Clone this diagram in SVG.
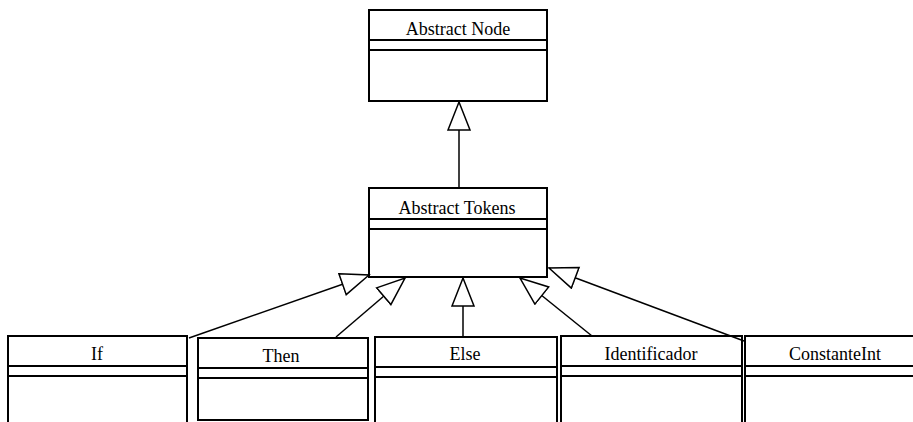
<svg xmlns="http://www.w3.org/2000/svg" width="913" height="422" viewBox="0 0 913 422">
<style>
.box{fill:#fff;stroke:#000;stroke-width:2}
.sep{stroke:#000;stroke-width:2}
.lbl{font-family:"Liberation Serif",serif;font-size:18px;fill:#000;text-anchor:middle}
.conn{stroke:#000;stroke-width:1.5;fill:none}
</style>
<defs>
<marker id="gen" markerUnits="userSpaceOnUse" markerWidth="32" markerHeight="26" refX="29" refY="12" orient="auto" viewBox="0 0 32 26">
<path d="M1,1 L29,12 L1,23 Z" fill="#fff" stroke="#000" stroke-width="1.5"/>
</marker>
</defs>
<rect width="913" height="422" fill="#fff"/>
<g id="abstract-node">
<rect class="box" x="369" y="10" width="178" height="91"/>
<line class="sep" x1="369" y1="40" x2="547" y2="40"/>
<line class="sep" x1="369" y1="50" x2="547" y2="50"/>
<text class="lbl" x="458" y="35">Abstract Node</text>
</g>
<g id="abstract-tokens">
<rect class="box" x="369" y="188" width="178" height="89"/>
<line class="sep" x1="369" y1="219" x2="547" y2="219"/>
<line class="sep" x1="369" y1="229" x2="547" y2="229"/>
<text class="lbl" x="457" y="214">Abstract Tokens</text>
</g>
<g id="if">
<rect class="box" x="8" y="336" width="179" height="100"/>
<line class="sep" x1="8" y1="366" x2="187" y2="366"/>
<line class="sep" x1="8" y1="376" x2="187" y2="376"/>
<text class="lbl" x="97" y="360">If</text>
</g>
<g id="then">
<rect class="box" x="198" y="338" width="170" height="82"/>
<line class="sep" x1="198" y1="368" x2="368" y2="368"/>
<line class="sep" x1="198" y1="378" x2="368" y2="378"/>
<text class="lbl" x="281" y="362">Then</text>
</g>
<g id="else">
<rect class="box" x="375" y="337" width="182" height="100"/>
<line class="sep" x1="375" y1="367" x2="557" y2="367"/>
<line class="sep" x1="375" y1="377" x2="557" y2="377"/>
<text class="lbl" x="465" y="360">Else</text>
</g>
<g id="identificador">
<rect class="box" x="561" y="336" width="181" height="100"/>
<line class="sep" x1="561" y1="366" x2="742" y2="366"/>
<line class="sep" x1="561" y1="376" x2="742" y2="376"/>
<text class="lbl" x="651" y="360">Identificador</text>
</g>
<g id="constanteint">
<rect class="box" x="745" y="336" width="180" height="100"/>
<line class="sep" x1="745" y1="366" x2="925" y2="366"/>
<line class="sep" x1="745" y1="376" x2="925" y2="376"/>
<text class="lbl" x="835" y="360">ConstanteInt</text>
</g>
<g id="connectors">
<line class="conn" x1="459" y1="188" x2="459" y2="102" marker-end="url(#gen)"/>
<line class="conn" x1="189" y1="338" x2="369" y2="275" marker-end="url(#gen)"/>
<line class="conn" x1="336" y1="337" x2="405" y2="278" marker-end="url(#gen)"/>
<line class="conn" x1="463" y1="337" x2="463" y2="278" marker-end="url(#gen)"/>
<line class="conn" x1="592" y1="336" x2="520" y2="278" marker-end="url(#gen)"/>
<line class="conn" x1="744" y1="341" x2="549" y2="268" marker-end="url(#gen)"/>
</g>
</svg>
